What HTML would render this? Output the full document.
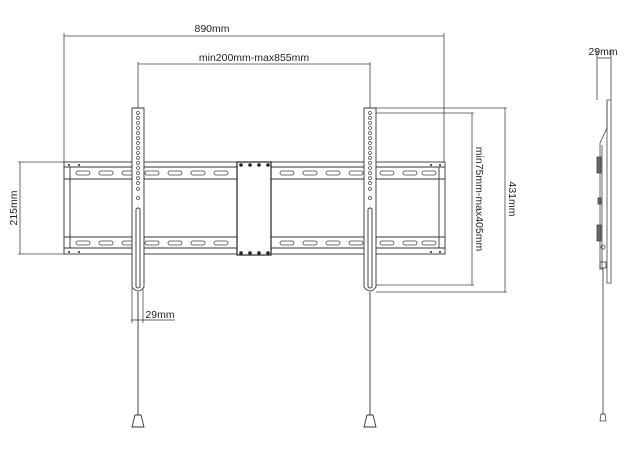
<!DOCTYPE html>
<html><head><meta charset="utf-8"><style>
html,body{margin:0;padding:0;background:#fff;}
svg{display:block;}
text{font-family:"Liberation Sans",sans-serif;font-size:10.5px;fill:#222;}
</style></head><body>
<svg width="627" height="450" viewBox="0 0 627 450" xmlns="http://www.w3.org/2000/svg">
<g stroke="#444" stroke-width="0.8" fill="none">
<line x1="64" y1="36" x2="444" y2="36"/>
<line x1="64" y1="33" x2="64" y2="162"/>
<line x1="444" y1="33" x2="444" y2="162"/>
<line x1="138" y1="64" x2="370" y2="64"/>
<line x1="138" y1="62" x2="138" y2="108"/>
<line x1="370" y1="62" x2="370" y2="108"/>
<line x1="20" y1="162" x2="20" y2="254"/>
<line x1="18" y1="162" x2="64" y2="162"/>
<line x1="18" y1="254" x2="64" y2="254"/>
<line x1="472" y1="113" x2="472" y2="285"/>
<line x1="376" y1="113" x2="474" y2="113"/>
<line x1="376" y1="285" x2="474" y2="285"/>
<line x1="505" y1="108" x2="505" y2="292"/>
<line x1="376" y1="108" x2="507" y2="108"/>
<line x1="376" y1="292" x2="507" y2="292"/>
</g>
<g stroke="#333" stroke-width="0.9" fill="none">
<rect x="64" y="162" width="381" height="92"/>
<line x1="64" y1="167" x2="445" y2="167"/>
<line x1="64" y1="179" x2="445" y2="179"/>
<line x1="64" y1="237" x2="445" y2="237"/>
<line x1="64" y1="248" x2="445" y2="248"/>
<line x1="70" y1="167" x2="70" y2="248"/>
<line x1="439" y1="167" x2="439" y2="248"/>
</g>
<g stroke="#444" stroke-width="0.8" fill="#fff">
<rect x="76" y="171" width="14" height="4" rx="2"/><rect x="99" y="171" width="14" height="4" rx="2"/><rect x="122" y="171" width="14" height="4" rx="2"/><rect x="145" y="171" width="14" height="4" rx="2"/><rect x="168" y="171" width="14" height="4" rx="2"/><rect x="191" y="171" width="14" height="4" rx="2"/><rect x="214" y="171" width="14" height="4" rx="2"/><rect x="280" y="171" width="14" height="4" rx="2"/><rect x="303" y="171" width="14" height="4" rx="2"/><rect x="326" y="171" width="14" height="4" rx="2"/><rect x="349" y="171" width="14" height="4" rx="2"/><rect x="380" y="171" width="14" height="4" rx="2"/><rect x="403" y="171" width="14" height="4" rx="2"/><rect x="422" y="171" width="14" height="4" rx="2"/>
<rect x="76" y="241" width="14" height="4" rx="2"/><rect x="99" y="241" width="14" height="4" rx="2"/><rect x="122" y="241" width="14" height="4" rx="2"/><rect x="145" y="241" width="14" height="4" rx="2"/><rect x="168" y="241" width="14" height="4" rx="2"/><rect x="191" y="241" width="14" height="4" rx="2"/><rect x="214" y="241" width="14" height="4" rx="2"/><rect x="280" y="241" width="14" height="4" rx="2"/><rect x="303" y="241" width="14" height="4" rx="2"/><rect x="326" y="241" width="14" height="4" rx="2"/><rect x="349" y="241" width="14" height="4" rx="2"/><rect x="380" y="241" width="14" height="4" rx="2"/><rect x="403" y="241" width="14" height="4" rx="2"/><rect x="422" y="241" width="14" height="4" rx="2"/>
<rect x="237" y="162" width="34" height="93" stroke="#222" stroke-width="1.2"/>
</g>
<g fill="#222">
<circle cx="241" cy="165" r="1.8"/><circle cx="250" cy="165" r="1.8"/><circle cx="259" cy="165" r="1.8"/><circle cx="268" cy="165" r="1.8"/>
<circle cx="241" cy="253" r="1.8"/><circle cx="250" cy="253" r="1.8"/><circle cx="259" cy="253" r="1.8"/><circle cx="268" cy="253" r="1.8"/>
<circle cx="69" cy="165" r="1"/><circle cx="79" cy="165" r="1"/><circle cx="69" cy="252" r="1"/><circle cx="79" cy="252" r="1"/>
<circle cx="431" cy="165" r="1"/><circle cx="440" cy="165" r="1"/><circle cx="431" cy="252" r="1"/><circle cx="440" cy="252" r="1"/>
</g>
<g stroke="#333" stroke-width="0.9" fill="#fff">
<path d="M132 108 H144 V287 Q138 295 132 287 Z"/>
<path d="M364 108 H376 V287 Q370 295 364 287 Z"/>
<rect x="136" y="208" width="4" height="80" rx="2"/>
<rect x="368" y="208" width="4" height="80" rx="2"/>
</g>
<g stroke="#444" stroke-width="0.7" fill="none">
<circle cx="138" cy="113" r="1.5"/><circle cx="138" cy="118" r="1.5"/><circle cx="138" cy="123" r="1.5"/><circle cx="138" cy="128" r="1.5"/><circle cx="138" cy="133" r="1.5"/><circle cx="138" cy="138" r="1.5"/><circle cx="138" cy="143" r="1.5"/><circle cx="138" cy="148" r="1.5"/><circle cx="138" cy="153" r="1.5"/><circle cx="138" cy="158" r="1.5"/><circle cx="138" cy="163" r="1.5"/><circle cx="138" cy="168" r="1.5"/><circle cx="138" cy="173" r="1.5"/><circle cx="138" cy="178" r="1.5"/><circle cx="138" cy="183" r="1.5"/><circle cx="138" cy="189" r="1.5"/><circle cx="138" cy="198" r="1.5"/>
<circle cx="370" cy="113" r="1.5"/><circle cx="370" cy="118" r="1.5"/><circle cx="370" cy="123" r="1.5"/><circle cx="370" cy="128" r="1.5"/><circle cx="370" cy="133" r="1.5"/><circle cx="370" cy="138" r="1.5"/><circle cx="370" cy="143" r="1.5"/><circle cx="370" cy="148" r="1.5"/><circle cx="370" cy="153" r="1.5"/><circle cx="370" cy="158" r="1.5"/><circle cx="370" cy="163" r="1.5"/><circle cx="370" cy="168" r="1.5"/><circle cx="370" cy="173" r="1.5"/><circle cx="370" cy="178" r="1.5"/><circle cx="370" cy="183" r="1.5"/><circle cx="370" cy="189" r="1.5"/><circle cx="370" cy="198" r="1.5"/>
</g>
<g stroke="#333" stroke-width="0.9" fill="#fff">
<line x1="138" y1="292" x2="138" y2="416"/>
<line x1="370" y1="292" x2="370" y2="416"/>
<path d="M135 415 H141 L144 427 H132 Z"/>
<path d="M367 415 H373 L376 427 H364 Z"/>
<line x1="132" y1="288" x2="132" y2="323" stroke-width="0.7"/>
<line x1="143" y1="288" x2="143" y2="323" stroke-width="0.7"/>
<line x1="131" y1="320" x2="175" y2="320" stroke-width="0.7"/>
</g>
<g stroke="#444" stroke-width="0.8" fill="none">
<line x1="597" y1="50" x2="597" y2="100"/>
<line x1="611" y1="50" x2="611" y2="100"/>
<line x1="597" y1="58" x2="611" y2="58"/>
<path d="M607 100 H611 V283 H607 Z"/>
<path d="M607 102 V128 L600 143 V270"/>
<path d="M602 145 V270"/>
<rect x="597" y="157" width="4" height="16" fill="#666"/>
<rect x="597" y="225" width="4" height="16" fill="#666"/>
<rect x="598" y="198" width="3" height="6" fill="#666"/>
<circle cx="603" cy="247" r="2"/>
<rect x="600" y="262" width="6" height="6"/>
<line x1="603" y1="268" x2="603" y2="415" stroke="#333"/>
<path d="M601 414 H605 L606 421 H600 Z"/>
</g>
<text x="212" y="32" text-anchor="middle">890mm</text>
<text x="254" y="61" text-anchor="middle">min200mm-max855mm</text>
<text x="160" y="318" text-anchor="middle">29mm</text>
<text x="603" y="55" text-anchor="middle">29mm</text>
<text transform="translate(17,208) rotate(-90)" text-anchor="middle">215mm</text>
<text transform="translate(476,199) rotate(90)" text-anchor="middle">min75mm-max405mm</text>
<text transform="translate(509,199) rotate(90)" text-anchor="middle">431mm</text>
</svg>
</body></html>
